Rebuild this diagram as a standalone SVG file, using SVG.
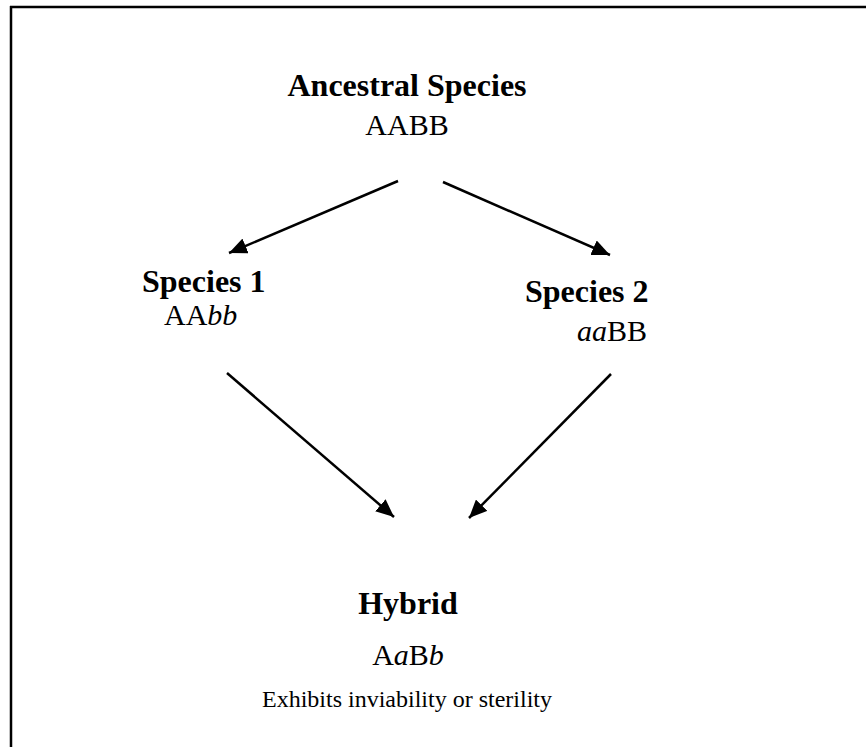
<svg xmlns="http://www.w3.org/2000/svg" width="866" height="747" viewBox="0 0 866 747">
<defs>
<style>
.t{font-family:"Liberation Serif","Times New Roman",serif;fill:#000}
.b{font-weight:bold;font-size:32px}
.g{font-size:30px}
.s{font-size:24px}
.c{stroke:#000;stroke-width:2.5;fill:none}
</style>
<marker id="ah" markerUnits="userSpaceOnUse" markerWidth="20" markerHeight="16" refX="18" refY="8" orient="auto">
<path d="M0,0 L18,8 L0,16 Z" fill="#000"/>
</marker>
</defs>
<rect width="866" height="747" fill="#fff"/>
<g id="frame">
<line x1="10" y1="7" x2="866" y2="7" stroke="#000" stroke-width="2.5"/>
<line x1="11" y1="6" x2="11" y2="747" stroke="#000" stroke-width="2.5"/>
</g>
<g id="ancestral">
<text class="t b" x="407" y="96" text-anchor="middle">Ancestral Species</text>
<text class="t g" x="407" y="135" text-anchor="middle">AABB</text>
</g>
<g id="species1">
<text class="t b" x="142" y="292">Species 1</text>
<text class="t g" x="164" y="325">AA<tspan font-style="italic">bb</tspan></text>
</g>
<g id="species2">
<text class="t b" x="525" y="302">Species 2</text>
<text class="t g" x="647" y="341" text-anchor="end"><tspan font-style="italic">aa</tspan>BB</text>
</g>
<g id="hybrid">
<text class="t b" x="408" y="614" text-anchor="middle">Hybrid</text>
<text class="t g" x="408" y="665" text-anchor="middle">A<tspan font-style="italic">a</tspan>B<tspan font-style="italic">b</tspan></text>
<text class="t s" x="407" y="707" text-anchor="middle">Exhibits inviability or sterility</text>
</g>
<g id="connectors">
<line class="c" x1="398" y1="181" x2="229" y2="253" marker-end="url(#ah)"/>
<line class="c" x1="443" y1="182" x2="610" y2="255" marker-end="url(#ah)"/>
<line class="c" x1="227" y1="373" x2="394" y2="517" marker-end="url(#ah)"/>
<line class="c" x1="611" y1="374" x2="469" y2="518" marker-end="url(#ah)"/>
</g>
</svg>
